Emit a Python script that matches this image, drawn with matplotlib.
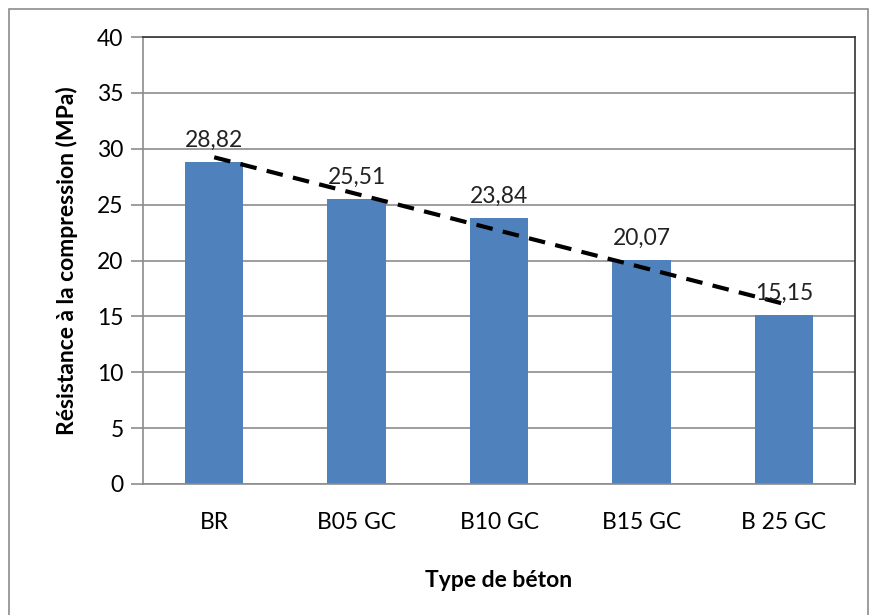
import matplotlib
matplotlib.use("Agg")
import matplotlib.pyplot as plt
import numpy as np
from matplotlib.patches import Rectangle

categories = ["BR", "B05 GC", "B10 GC", "B15 GC", "B 25 GC"]
values = [28.82, 25.51, 23.84, 20.07, 15.15]
yticks = [0, 5, 10, 15, 20, 25, 30, 35, 40]

plt.rcParams['font.family'] = ['Lato', 'DejaVu Sans']

fig = plt.figure(figsize=(8.71, 6.15), dpi=100)
fig.patches.append(Rectangle((9/871, -0.01), (868-9)/871, 1 - 9/615 + 0.01,
                             transform=fig.transFigure, fill=False,
                             edgecolor='#8c8c8c', linewidth=1.2, zorder=0))
ax = fig.add_axes([143/871, 1 - 484/615, (855 - 143)/871, (484 - 37)/615])

x = np.arange(len(categories))
ax.bar(x, values, width=0.41, color='#4F81BD', zorder=2)

# linear trendline
coef = np.polyfit(x, values, 1)
ax.plot(x, np.polyval(coef, x), linestyle=(0, (4, 2.5)), color='black',
        linewidth=3, zorder=4)

for xi, v in zip(x, values):
    ax.annotate(f"{v:.2f}".replace('.', ','), (xi, v), xytext=(0, 8),
                textcoords='offset points', ha='center', va='bottom',
                fontsize=16.5, color='#222222', zorder=5)

ax.set_xlim(-0.5, len(categories) - 0.5)
ax.set_ylim(0, 40)
ax.set_yticks(yticks)
ax.set_yticklabels([str(t) for t in yticks], fontsize=16.5)
ax.set_xticks(x)
ax.set_xticklabels(categories, fontsize=16.5)
ax.yaxis.grid(True, color='#8c8c8c', linewidth=1.2, zorder=0)
ax.set_axisbelow(True)
ax.tick_params(axis='y', length=9, width=1.2, color='#8c8c8c', pad=5)
ax.tick_params(axis='x', length=0, pad=20)
for s in ['left', 'bottom']:
    ax.spines[s].set_color('#8c8c8c')
    ax.spines[s].set_linewidth(1.2)
for s in ['top', 'right']:
    ax.spines[s].set_color('#333333')
    ax.spines[s].set_linewidth(1.2)

ax.set_ylabel("Résistance à la compression (MPa)", fontsize=16.5, fontweight='bold', labelpad=14)
ax.set_xlabel("Type de béton", fontsize=16.5, fontweight='bold', labelpad=27)

fig.savefig("out.png", dpi=100)
